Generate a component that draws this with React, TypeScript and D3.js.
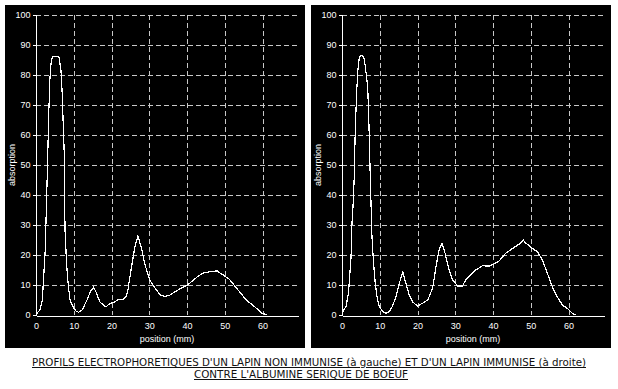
import React, { useEffect, useRef } from 'react';
import * as d3 from 'd3';

// left profile: non-immunised rabbit
const leftPos = [0, 0.5, 1.06, 1.7, 1.9, 2.4, 2.8, 3.1, 3.4, 3.7, 4.0, 4.3, 5.2, 6.1, 6.6, 6.9, 7.2, 7.5, 7.55, 7.7, 8.1, 8.5, 9.0, 9.9, 10.6, 11.3, 12.3, 13.5, 14.5, 15.2, 15.8, 16.9, 18.3, 18.8, 19.6, 20.5, 21.8, 23.1, 23.8, 24.3, 25.3, 26.2, 27.0, 28.0, 28.8, 30.2, 31.5, 32.8, 34.0, 35.4, 36.5, 38.1, 40.1, 41.6, 42.8, 44.3, 46.0, 48.0, 49.0, 50.0, 51.3, 53.1, 55.7, 57.9, 59.7, 60.5, 61.0];
const leftAbs = [0, 1, 1.7, 5, 10, 20.6, 38, 53, 68, 79, 84, 86, 86.3, 86, 81.7, 75, 64, 53, 40, 28, 17, 10.6, 5, 2.5, 1.3, 0.9, 1.8, 5, 8, 9.2, 8, 4.4, 2.8, 3, 3.9, 4.1, 5.2, 5.2, 6, 8, 16, 22.8, 26.3, 22, 17, 11.5, 9, 6.8, 6.2, 6.6, 7.5, 8.7, 10, 11.5, 12.8, 14, 14.4, 14.7, 13.8, 13, 11.8, 9, 5, 2.8, 0.7, 0.3, 0];

// right profile: immunised rabbit
const rightPos = [0, 0.2, 1.06, 1.7, 1.9, 2.4, 2.6, 3.0, 3.26, 3.44, 3.6, 3.88, 4.15, 4.5, 4.76, 5.3, 5.9, 6.35, 6.8, 6.96, 7.2, 7.45, 7.67, 7.9, 8.3, 8.8, 9.26, 9.9, 10.8, 11.6, 12.5, 13.4, 14.3, 15.2, 16.1, 16.9, 17.8, 18.7, 20.0, 21.3, 22.7, 24.0, 24.9, 25.7, 26.5, 27.3, 28.4, 29.3, 30.6, 31.9, 32.8, 33.7, 35.4, 37.2, 39.0, 40.3, 41.6, 43.4, 45.2, 46.9, 48.0, 48.7, 49.5, 50.4, 51.8, 53.1, 54.4, 55.7, 57.0, 58.4, 59.7, 61.0, 61.9];
const rightAbs = [0.8, 1.1, 2.8, 7.2, 10.6, 19.4, 29.4, 38, 46.7, 58, 65, 74, 81, 85, 86.3, 86.5, 85.5, 81, 76, 70.6, 60.6, 48, 38, 27, 18.3, 10.6, 6.1, 2.8, 1.1, 0.6, 1.1, 3, 6.1, 10.6, 14.4, 10.6, 6.7, 4.4, 3, 3.9, 5, 8.9, 16.1, 21.7, 23.9, 20.6, 15, 11.7, 9.7, 9.7, 11.7, 12.8, 15, 16.4, 16.3, 17, 18, 20.6, 22.2, 23.6, 25, 23.9, 23.3, 22.2, 21.1, 18.3, 13.9, 9.4, 6.1, 3.3, 2.2, 0.6, 0];

const yTicks = [0, 10, 20, 30, 40, 50, 60, 70, 80, 90, 100];
const xTicks = [0, 10, 20, 30, 40, 50, 60];

const captionLine1 = "PROFILS ELECTROPHORETIQUES D'UN LAPIN NON IMMUNISE (à gauche) ET D'UN LAPIN IMMUNISE (à droite)";
const captionLine2 = "CONTRE L'ALBUMINE SERIQUE DE BOEUF";

const W = 618;
const H = 389;
const font = "'Liberation Sans', Arial, sans-serif";

function drawPanel(g: any, pos: number[], abs: number[]) {
    const panelW = 300;
    const panelH = 343;
    g.append("rect")
        .attr("width", panelW)
        .attr("height", panelH)
        .attr("fill", "#000");

    const x = d3.scaleLinear().domain([0, 69.4]).range([31, 293]);
    const y = d3.scaleLinear().domain([0, 100]).range([310, 10]);

    // dashed grid
    g.append("g")
        .selectAll("line")
        .data(yTicks.filter(d => d > 0))
        .join("line")
        .attr("x1", x(0)).attr("x2", x(69.4))
        .attr("y1", (d: number) => Math.round(y(d)) + 0.5)
        .attr("y2", (d: number) => Math.round(y(d)) + 0.5)
        .attr("stroke", "#c8c8c8")
        .attr("stroke-dasharray", "5,3")
        .attr("shape-rendering", "crispEdges");

    g.append("g")
        .selectAll("line")
        .data(xTicks.filter(d => d > 0))
        .join("line")
        .attr("x1", (d: number) => Math.round(x(d)) + 0.5)
        .attr("x2", (d: number) => Math.round(x(d)) + 0.5)
        .attr("y1", y(100)).attr("y2", y(0))
        .attr("stroke", "#c8c8c8")
        .attr("stroke-dasharray", "5,3")
        .attr("shape-rendering", "crispEdges");

    // axes
    const yAxis = g.append("g")
        .attr("transform", "translate(" + (Math.round(x(0)) + 0.5) + ",0)")
        .call(d3.axisLeft(y).tickValues(yTicks).tickSize(4).tickPadding(2));
    yAxis.select(".domain").attr("stroke", "#fff").attr("d", "M0," + y(100) + "V" + y(0));
    yAxis.selectAll("line").attr("stroke", "#fff").attr("shape-rendering", "crispEdges");
    yAxis.selectAll("text").attr("fill", "#fff").attr("font-size", 9).attr("font-family", font);

    const xAxis = g.append("g")
        .attr("transform", "translate(0," + (Math.round(y(0)) + 0.5) + ")")
        .call(d3.axisBottom(x).tickValues(xTicks).tickSize(0).tickPadding(7));
    xAxis.select(".domain").attr("stroke", "#fff").attr("shape-rendering", "crispEdges");
    xAxis.selectAll("text").attr("fill", "#fff").attr("font-size", 9).attr("font-family", font);

    // axis titles
    g.append("text")
        .attr("transform", "translate(10," + y(50) + ") rotate(-90)")
        .attr("text-anchor", "middle")
        .attr("fill", "#fff")
        .attr("font-size", 9)
        .attr("font-family", font)
        .text("absorption");

    g.append("text")
        .attr("x", (x(0) + x(69.4)) / 2)
        .attr("y", 337)
        .attr("text-anchor", "middle")
        .attr("fill", "#fff")
        .attr("font-size", 9)
        .attr("font-family", font)
        .text("position (mm)");

    // profile
    const line = d3.line<number>()
        .x((d, i) => x(pos[i]))
        .y(d => y(d));

    g.append("path")
        .datum(abs)
        .attr("d", line)
        .attr("fill", "none")
        .attr("stroke", "#fff")
        .attr("stroke-width", 1.2)
        .attr("shape-rendering", "crispEdges");
}

export default function App() {
    const ref = useRef<SVGSVGElement>(null);

    useEffect(() => {
        const svg = d3.select(ref.current);
        svg.selectAll("*").remove();

        drawPanel(svg.append("g").attr("transform", "translate(5,5)"), leftPos, leftAbs);
        drawPanel(svg.append("g").attr("transform", "translate(311,5)"), rightPos, rightAbs);

        svg.append("text")
            .attr("x", 309)
            .attr("y", 366)
            .attr("text-anchor", "middle")
            .attr("font-size", 10)
            .attr("font-family", "'DejaVu Sans', sans-serif")
            .attr("text-decoration", "underline")
            .attr("fill", "#111")
            .attr("textLength", 554)
            .attr("lengthAdjust", "spacingAndGlyphs")
            .text(captionLine1);

        svg.append("text")
            .attr("x", 301)
            .attr("y", 378)
            .attr("text-anchor", "middle")
            .attr("font-size", 10)
            .attr("font-family", "'DejaVu Sans', sans-serif")
            .attr("text-decoration", "underline")
            .attr("fill", "#111")
            .attr("textLength", 214)
            .attr("lengthAdjust", "spacingAndGlyphs")
            .text(captionLine2);
    }, []);

    return (
        <svg ref={ref} width={W} height={H}
             style={{ position: 'absolute', left: 0, top: 0, background: '#fff' }} />
    );
}
